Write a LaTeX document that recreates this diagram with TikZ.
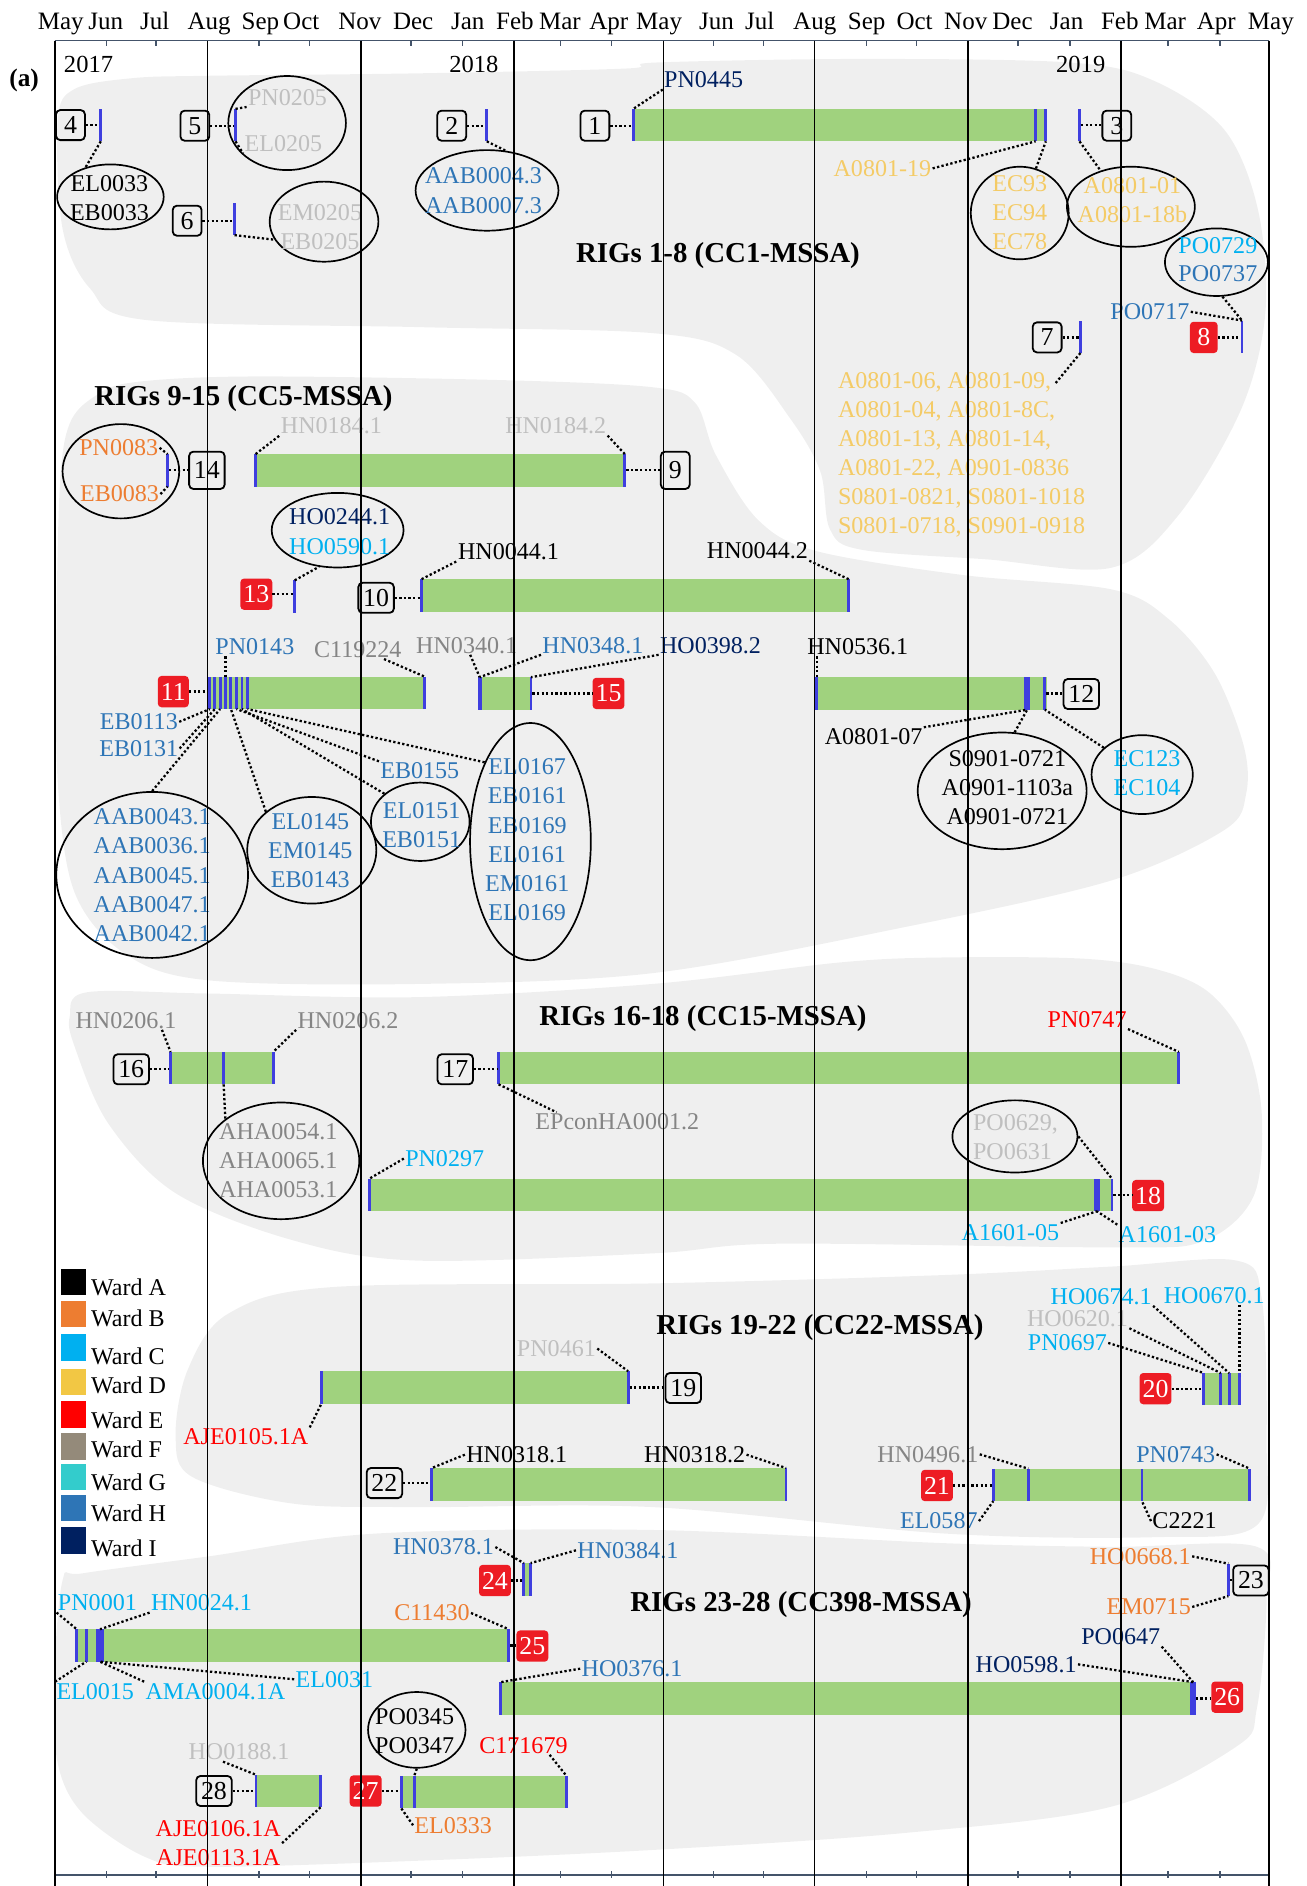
\documentclass[tikz,border=0pt]{standalone}
\usepackage{fontspec}
\setmainfont{Liberation Serif}
\usepackage{tikz}
\usetikzlibrary{shapes.geometric}

\definecolor{wardA}{HTML}{000000}
\definecolor{wardB}{HTML}{ED7D31}
\definecolor{wardC}{HTML}{00B0F0}
\definecolor{wardD}{HTML}{F2C744}
\definecolor{wardDtext}{HTML}{F4CB66}
\definecolor{wardE}{HTML}{FF0000}
\definecolor{wardF}{HTML}{948A7A}
\definecolor{wardG}{HTML}{33CCCC}
\definecolor{wardH}{HTML}{2E75B6}
\definecolor{wardI}{HTML}{002060}
\definecolor{greyL}{HTML}{BFBFBF}
\definecolor{greyM}{HTML}{858585}
\definecolor{barfill}{HTML}{A0D27E}
\definecolor{mkblue}{HTML}{3F3FDF}
\definecolor{blobfill}{HTML}{EFEFEF}
\definecolor{axisline}{HTML}{44546A}
\definecolor{boxred}{HTML}{ED1C24}

\tikzset{
	every node/.style={font=\fontsize{20}{24.2}\selectfont, inner sep=1pt, align=center},
	wA/.style={text=wardA}, wB/.style={text=wardB}, wC/.style={text=wardC},
	wD/.style={text=wardDtext}, wE/.style={text=wardE}, wH/.style={text=wardH},
	wI/.style={text=wardI}, gL/.style={text=greyL}, gM/.style={text=greyM},
	numbox/.style={draw, rounded corners=3.5pt, line width=1.5pt, minimum width=24pt, minimum height=25pt, inner xsep=4pt, inner ysep=2pt, font=\fontsize{21.5}{24}\selectfont},
	redbox/.style={fill=boxred, text=white, rounded corners=3pt, minimum width=23pt, minimum height=26pt, inner xsep=2.5pt, inner ysep=2pt, font=\fontsize{21.5}{24}\selectfont},
	grp/.style={ellipse, draw, line width=1.4pt, inner sep=0pt},
	lnk/.style={line width=1.9pt, dash pattern=on 1.9pt off 1.9pt},
	blk/.style={fill=mkblue, minimum width=2.4pt, minimum height=27pt, inner sep=0pt, outer sep=0pt},
	bar/.style={fill=barfill},
	blob/.style={fill=blobfill},
	rigs/.style={font=\bfseries\fontsize{24}{28}\selectfont},
	mon/.style={font=\fontsize{20.8}{24}\selectfont, text height=14pt, text depth=4pt},
	yr/.style={font=\fontsize{20.4}{24}\selectfont},
	vline/.style={line width=1.5pt},
	axln/.style={draw=axisline, line width=1.2pt}
}

\begin{document}
\begin{tikzpicture}[x=1pt,y=-1pt]
	\useasboundingbox (0,0) rectangle (1086,1568);

	\fill[blob] plot[smooth cycle, tension=0.55] coordinates {(48,100) (62,74) (110,65) (173,63) (346,61) (520,57) (545,52) (716,49) (890,52) (959,67) (1018,108) (1046,175) (1052,260) (1032,340) (980,428) (924,472) (820,465) (716,457) (690,440) (682,392) (657,348) (612,295) (543,277) (350,272) (121,266) (75,240) (52,190)};
	\fill[blob] plot[smooth cycle, tension=0.55] coordinates {(50,400) (58,352) (78,330) (110,318) (208,313) (416,316) (543,322) (578,335) (595,378) (630,432) (678,458) (800,478) (924,490) (972,515) (1010,560) (1034,620) (1036,660) (1018,690) (924,732) (751,771) (543,809) (350,818) (173,815) (104,793) (62,742) (48,650) (47,520)};
	\fill[blob] plot[smooth cycle, tension=0.55] coordinates {(58,845) (72,825) (173,826) (347,829) (543,818) (700,800) (786,796) (900,797) (962,806) (1005,825) (1035,865) (1049,926) (1042,995) (1000,1032) (924,1037) (647,1034) (543,1042) (346,1048) (243,1031) (146,992) (90,934) (62,870)};
	\fill[blob] plot[smooth cycle, tension=0.55] coordinates {(156,1139) (190,1092) (277,1070) (543,1067) (786,1060) (924,1053) (1028,1048) (1049,1080) (1053,1195) (1045,1268) (959,1278) (786,1275) (543,1253) (346,1253) (243,1250) (160,1228) (146,1195)};
	\fill[blob] plot[smooth cycle, tension=0.55] coordinates {(52,1314) (69,1308) (173,1294) (312,1275) (543,1272) (786,1283) (924,1286) (1045,1286) (1053,1330) (1045,1420) (1028,1452) (924,1502) (751,1524) (543,1538) (347,1547) (173,1552) (121,1544) (69,1508) (48,1466) (45,1397)};

	\foreach \xa/\xb/\yc in {526.5/870.4/104, 212.5/519.5/391, 350.5/705.9/495, 173.2/353/576, 397.7/441.5/576.5, 679/870.4/576.5, 141.8/227.3/888, 414.5/980/888, 307/924.5/993.5, 267.2/522.2/1153.5, 1000.8/1031.6/1155, 359/653.5/1234, 825.8/1040/1234.5, 435.5/441.2/1313, 63.8/423/1368, 416.2/993.4/1412, 333.7/471/1490, 212.8/266.5/1489}
		\fill[bar] (\xa,{\yc-13.5}) rectangle (\xb,{\yc+13.5});

	\foreach \n/\x/\y/\w in {k4/83.8/104/2.4, k5/195.8/104/2.4, k6/195/182/2.4, k2/404.7/104/2.4, k1a/526.5/104/2.4, k1b/861/104/2.4, k1c/869.5/104/2.4, k3/897.5/104/2.4, k7/898.2/280/2.4, k8/1032.6/280/2.4, k14/139.3/391/2.4, k9a/212.5/391/2.4, k9b/519.5/391/2.4, k13/245/496/2.4, k10a/350.5/495/2.4, k10b/705.5/495/2.4, k11a/174.4/576/2.4, k11b/178.6/576/2.4, k11c/183/576/2.4, k11d/187.4/576/2.4, k11e/192/576/2.4, k11f/196.6/576/2.4, k11g/201.2/576/2.4, k11h/205.8/576/2.4, k11z/353/576/2.4, k15a/398.8/576.5/3.5, k15b/441.5/576.5/2.4, k12a/679/576.5/2.4, k12b/854/576.5/5, k12c/868.7/576.5/2.4, k16a/141.8/888/2.4, k16b/185.9/888/2.4, k16c/227.3/888/2.4, k17a/414.5/888/2.4, k17b/980/888/2.4, k18a/307/993.5/2.4, k18b/912/993.5/5, k18c/924.5/993.5/2.4, k19a/267.2/1153.5/2.4, k19b/522.2/1153.5/2.4, k20a/1000.8/1155/2.4, k20b/1014.9/1155/2.4, k20c/1021.9/1155/2.4, k20d/1030.5/1155/2.4, k22a/359/1234/2.4, k22b/653.5/1234/2.4, k21a/825.8/1234.5/2.4, k21b/854.9/1234.5/2.4, k21c/949.4/1234.5/2.4, k21d/1039/1234.5/2.4, k24a/435.5/1313/2.4, k24b/441.2/1313/2.4, k23/1021.2/1313.5/2.4, k25a/63.8/1368/2.4, k25b/71.7/1368/2.4, k25c/83.2/1368/6.5, k25z/423/1368/2.4, k26a/416.2/1412/2.4, k26b/992/1412/4.5, k27a/333.7/1490/2.4, k27b/344.4/1490/2.4, k27c/471/1490/2.4, k28a/212.8/1489/2.4, k28b/266.5/1489/2.4}
		\node[blk, minimum width=\w] (\n) at (\x,\y) {};

	\node[numbox] (b4) at (58.6,104) {4};
	\path[lnk,draw] (b4.east) -- (b4.east -| k4.west);
	\node[grp, minimum width=88.6, minimum height=54] (e4) at (91.8,163.7) {};
	\node[wA] (t4) at (91,164.4) {EL0033\\EB0033};
	\path[lnk,draw] (k4.south) -- (e4.130);

	\node[numbox] (b5) at (162,104.5) {5};
	\path[lnk,draw] (b5.east) -- (b5.east -| k5.west);
	\node[grp, minimum width=97.8, minimum height=78.2] (e5) at (238.7,102.3) {};
	\node[gL] (t5a) at (239,81) {PN0205};
	\node[gL] (t5b) at (235.6,119.7) {EL0205};
	\path[lnk,draw] (k5.north) -- (t5a.south west);
	\path[lnk,draw] (k5.south) -- (t5b.south west);

	\node[numbox] (b6) at (155.6,183.5) {6};
	\path[lnk,draw] (b6.east) -- (b6.east -| k6.west);
	\node[grp, minimum width=90.4, minimum height=66.6] (e6) at (269.4,184.3) {};
	\node[gL] (t6) at (266,188.9) {EM0205\\EB0205};
	\path[lnk,draw] (k6.south) -- (e6.200);

	\node[numbox] (b2) at (375.6,104.5) {2};
	\path[lnk,draw] (b2.east) -- (b2.east -| k2.west);
	\node[grp, minimum width=118.8, minimum height=67] (e2) at (404.9,158.3) {};
	\node[wH] (t2) at (402,158.5) {AAB0004.3\\AAB0007.3};
	\path[lnk,draw] (k2.south) -- (e2.65);

	\node[numbox] (b1) at (494.6,104.5) {1};
	\path[lnk,draw] (b1.east) -- (b1.east -| k1a.west);
	\node[wI] (t1a) at (585,66.5) {PN0445};
	\path[lnk,draw] (t1a.south west) -- (k1a.north);
	\node[wD] (t1b) at (733.6,140) {A0801-19};
	\path[lnk,draw] (t1b.east) -- (k1b.south);
	\node[grp, minimum width=81.4, minimum height=77] (e1) at (847.8,177.1) {};
	\node[wD] (t1c) at (847.9,176.7) {EC93\\EC94\\EC78};
	\path[lnk,draw] (e1.70) -- (k1c.south);

	\node[numbox] (b3) at (928.5,104.5) {3};
	\path[lnk,draw] (k3.east) -- (k3.east -| b3.west);
	\node[grp, minimum width=106.4, minimum height=66.6] (e3) at (940.2,171.9) {};
	\node[wD] (t3) at (941.5,166.7) {A0801-01\\A0801-18b};
	\path[lnk,draw] (k3.south) -- (e3.130);

	\node[grp, minimum width=85.6, minimum height=56.2] (e8) at (1011.3,218) {};
	\node[wC] (t8a) at (1012.5,204.6) {PO0729};
	\node[wH] (t8b) at (1012.5,227.3) {PO0737};
	\node[wH] (t8c) at (956,259.2) {PO0717};
	\node[redbox] (r8) at (1000.8,280.5) {8};
	\path[lnk,draw] (e8.-80) -- (k8.north);
	\path[lnk,draw] (t8c.east) -- (k8.north);
	\path[lnk,draw] (r8.east) -- (r8.east -| k8.west);

	\node[numbox] (b7) at (870.6,280.5) {7};
	\path[lnk,draw] (b7.east) -- (b7.east -| k7.west);
	\node[wD, align=left, anchor=west] (t7) at (695.5,378) {A0801-06, A0801-09,\\A0801-04, A0801-8C,\\A0801-13, A0801-14,\\A0801-22, A0901-0836\\S0801-0821, S0801-1018\\S0801-0718, S0901-0918};
	\coordinate (c7) at (877.4,318.8);
	\path[lnk,draw] (k7.south) -- (c7);

	\node[rigs] (ttl1) at (596.9,212.5) {RIGs 1-8 (CC1-MSSA)};

	\node[rigs] (ttl2) at (202.4,331.7) {RIGs 9-15 (CC5-MSSA)};
	\node[grp, minimum width=97, minimum height=78.4] (e14) at (100.5,391.8) {};
	\node[wB] (t14a) at (98.7,372.3) {PN0083};
	\node[wB] (t14b) at (99.4,410.8) {EB0083};
	\path[lnk,draw] (t14a.east) -- (k14.north);
	\path[lnk,draw] (t14b.east) -- (k14.south);
	\node[numbox, minimum height=31] (b14) at (172,391) {14};
	\path[lnk,draw] (k14.east) -- (k14.east -| b14.west);
	\node[gL] (t9a) at (275.5,354.2) {HN0184.1};
	\path[lnk,draw] (k9a.north) -- (t9a.south west);
	\node[gL] (t9b) at (462,354.2) {HN0184.2};
	\path[lnk,draw] (t9b.south east) -- (k9b.north);
	\node[numbox, minimum height=31] (b9) at (561.4,391) {9};
	\path[lnk,draw] (k9b.east) -- (k9b.east -| b9.west);

	\node[grp, minimum width=109.6, minimum height=62] (e13) at (280.7,440.8) {};
	\node[wI] (t13a) at (282.4,429.6) {HO0244.1};
	\node[wC] (t13b) at (282.4,454.6) {HO0590.1};
	\path[lnk,draw] (k13.north) -- (e13.243);
	\node[redbox] (r13) at (213.1,494) {13};
	\path[lnk,draw] (r13.east) -- (r13.east -| k13.west);
	\node[numbox] (b10) at (312.7,497) {10};
	\path[lnk,draw] (b10.east) -- (b10.east -| k10a.west);
	\node[wA] (t10a) at (422.8,458.7) {HN0044.1};
	\path[lnk,draw] (k10a.north) -- (t10a.south west);
	\node[wA] (t10b) at (629.7,458.2) {HN0044.2};
	\path[lnk,draw] (t10b.south east) -- (k10b.north);

	\node[redbox] (r11) at (144.1,575) {11};
	\path[lnk,draw] (r11.east) -- (r11.east -| k11a.west);
	\node[wH] (t11a) at (211.9,537.8) {PN0143};
	\path[lnk,draw] (k11d.north |- t11a.south) -- (k11d.north);
	\node[gM] (t11b) at (297.5,540) {C119224};
	\path[lnk,draw] (t11b.-20) -- (k11z.north);
	\node[wH] (t11c) at (115.4,600.1) {EB0113};
	\path[lnk,draw] (t11c.east) -- (k11a.south);
	\node[wH] (t11d) at (115.4,622.3) {EB0131};
	\path[lnk,draw] (t11d.east) -- (k11b.south);
	\node[grp, minimum width=159.4, minimum height=138] (e11a) at (126.5,727.4) {};
	\node[wH] (t11e) at (126.5,727.6) {AAB0043.1\\AAB0036.1\\AAB0045.1\\AAB0047.1\\AAB0042.1};
	\path[lnk,draw] (e11a.north) -- (k11c.south);
	\node[grp, minimum width=107.4, minimum height=88.6] (e11b) at (259.2,706.9) {};
	\node[wH] (t11f) at (258,707) {EL0145\\EM0145\\EB0143};
	\path[lnk,draw] (e11b.140) -- (k11e.south);
	\node[wH] (t11g) at (349,640.9) {EB0155};
	\path[lnk,draw] (t11g.north west) -- (k11f.south);
	\node[grp, minimum width=82, minimum height=65.2] (e11c) at (349.4,683.2) {};
	\node[wH] (t11h) at (350.6,685.8) {EL0151\\EB0151};
	\path[lnk,draw] (e11c.142) -- (k11g.south);
	\node[grp, minimum width=100.4, minimum height=197.2] (e11d) at (441,699.7) {};
	\node[wH] (t11i) at (438.3,698.1) {EL0167\\EB0161\\EB0169\\EL0161\\EM0161\\EL0169};
	\path[lnk,draw] (e11d.120) -- (k11h.south);

	\node[gM] (t15a) at (388,536.4) {HN0340.1};
	\path[lnk,draw] (t15a.-70) -- (k15a.north);
	\node[wH] (t15b) at (492.9,536.4) {HN0348.1};
	\path[lnk,draw] (t15b.south west) -- (k15a.north);
	\node[wI] (t15c) at (590.7,536.4) {HO0398.2};
	\path[lnk,draw] (t15c.south west) -- (k15b.north);
	\node[redbox] (r15) at (505.9,576.5) {15};
	\path[lnk,draw] (k15b.east) -- (k15b.east -| r15.west);

	\node[wA] (t12a) at (713.1,537.8) {HN0536.1};
	\path[lnk,draw] (k12a.north |- t12a.south) -- (k12a.north);
	\node[numbox] (b12) at (899,577) {12};
	\path[lnk,draw] (k12c.east) -- (k12c.east -| b12.west);
	\node[wA] (t12b) at (726.3,612.6) {A0801-07};
	\path[lnk,draw] (t12b.north east) -- (k12b.south);
	\node[grp, minimum width=140.4, minimum height=97] (e12a) at (833.2,657.5) {};
	\node[wA] (t12c) at (837.5,654.9) {S0901-0721\\A0901-1103a\\A0901-0721};
	\path[lnk,draw] (e12a.78) -- (k12b.south);
	\node[grp, minimum width=84.2, minimum height=65.6] (e12b) at (949.6,644) {};
	\node[wC] (t12d) at (953.6,642.8) {EC123\\EC104};
	\path[lnk,draw] (e12b.145) -- (k12c.south);

	\node[rigs] (ttl3) at (584.4,847.2) {RIGs 16-18 (CC15-MSSA)};
	\node[gM] (t16a) at (104.8,848.2) {HN0206.1};
	\path[lnk,draw] (t16a.-15) -- (k16a.north);
	\node[gM] (t16b) at (289.3,848.2) {HN0206.2};
	\path[lnk,draw] (t16b.south west) -- (k16c.north);
	\node[numbox] (b16) at (109.1,889) {16};
	\path[lnk,draw] (b16.east) -- (b16.east -| k16a.west);
	\node[grp, minimum width=130, minimum height=97] (e16) at (233.7,965.1) {};
	\node[gM] (t16c) at (231.4,965) {AHA0054.1\\AHA0065.1\\AHA0053.1};
	\path[lnk,draw] (k16b.south) -- (e16.143);

	\node[numbox] (b17) at (378.5,889) {17};
	\path[lnk,draw] (b17.east) -- (b17.east -| k17a.west);
	\node[gM] (t17a) at (513.2,932.7) {EPconHA0001.2};
	\path[lnk,draw] (k17a.south) -- (t17a.171);
	\node[wE] (t17b) at (903.8,847.6) {PN0747};
	\path[lnk,draw] (t17b.south east) -- (k17b.north);

	\node[wC] (t18a) at (369.7,963.2) {PN0297};
	\path[lnk,draw] (t18a.west) -- (k18a.north);
	\node[redbox] (r18) at (954.5,994) {18};
	\path[lnk,draw] (k18c.east) -- (k18c.east -| r18.west);
	\node[grp, minimum width=104, minimum height=60] (e18) at (843.8,944.8) {};
	\node[gL, align=left] (t18b) at (844.3,945.5) {PO0629,\\PO0631};
	\path[lnk,draw] (e18.east) -- (k18c.north);
	\node[wC] (t18c) at (840.1,1024.7) {A1601-05};
	\path[lnk,draw] (t18c.north east) -- (k18b.south);
	\node[wC] (t18d) at (970.6,1026.1) {A1601-03};
	\path[lnk,draw] (t18d.north west) -- (k18b.south);

	\foreach \c/\t/\ys/\yt in {wardA/A/1066/1069.9, wardB/B/1092.5/1096.3, wardC/C/1120.4/1127.6, wardD/D/1149/1151.7, wardE/E/1175.9/1180.8, wardF/F/1202.5/1205.2, wardG/G/1228/1232.1, wardH/H/1253.5/1258.5, wardI/I/1280.6/1287.5} {
		\fill[\c] (50.9,{\ys-11}) rectangle (71.7,{\ys+11});
		\node[anchor=west] (lg\t) at (74.5,\yt) {Ward \t};
	}

	\node[rigs] (ttl4) at (681.6,1103.6) {RIGs 19-22 (CC22-MSSA)};
	\node[gL] (t19a) at (462.6,1121.2) {PN0461};
	\path[lnk,draw] (t19a.east) -- (k19b.north);
	\node[numbox] (b19) at (568.1,1154) {19};
	\path[lnk,draw] (k19b.east) -- (k19b.east -| b19.west);
	\node[wE] (t19b) at (204.4,1194.7) {AJE0105.1A};
	\path[lnk,draw] (t19b.north east) -- (k19a.south);
	\node[numbox] (b22) at (319.6,1233) {22};
	\path[lnk,draw] (b22.east) -- (b22.east -| k22a.west);
	\node[wA] (t22a) at (429.6,1209.4) {HN0318.1};
	\path[lnk,draw] (t22a.west) -- (k22a.north);
	\node[wA] (t22b) at (577.5,1209.4) {HN0318.2};
	\path[lnk,draw] (t22b.east) -- (k22b.north);

	\node[redbox] (r20) at (960.7,1154.5) {20};
	\path[lnk,draw] (r20.east) -- (r20.east -| k20a.west);
	\node[wC] (t20a) at (915.5,1077.7) {HO0674.1};
	\path[lnk,draw] (t20a.south east) -- (k20c.north);
	\node[wC] (t20b) at (1009.5,1076.9) {HO0670.1};
	\path[lnk,draw] (k20d.north |- t20b.south) -- (k20d.north);
	\node[gL] (t20c) at (895.8,1096.3) {HO0620.1};
	\path[lnk,draw] (t20c.south east) -- (k20b.north);
	\node[wC] (t20d) at (887.4,1116.5) {PN0697};
	\path[lnk,draw] (t20d.east) -- (k20a.north);

	\node[redbox] (r21) at (779,1235) {21};
	\path[lnk,draw] (r21.east) -- (r21.east -| k21a.west);
	\node[gM] (t21a) at (771.4,1209.1) {HN0496.1};
	\path[lnk,draw] (t21a.east) -- (k21b.north);
	\node[wH] (t21b) at (977.5,1209.1) {PN0743};
	\path[lnk,draw] (t21b.east) -- (k21d.north);
	\node[wH] (t21c) at (780.5,1264.6) {EL0587};
	\path[lnk,draw] (t21c.east) -- (k21a.south);
	\node[wA] (t21d) at (984.8,1264.6) {C2221};
	\path[lnk,draw] (t21d.west) -- (k21c.south);

	\node[rigs] (ttl5) at (666,1333.6) {RIGs 23-28 (CC398-MSSA)};
	\node[wB] (t23a) at (948,1293.9) {HO0668.1};
	\path[lnk,draw] (t23a.east) -- (k23.north);
	\node[numbox] (b23) at (1040,1314) {23};
	\path[lnk,draw] (k23.east) -- (k23.east -| b23.west);
	\node[wB] (t23b) at (955,1336) {EM0715};
	\path[lnk,draw] (t23b.east) -- (k23.south);
	\node[wH] (t24a) at (368.7,1286.2) {HN0378.1};
	\path[lnk,draw] (t24a.east) -- (k24a.north);
	\node[wH] (t24b) at (522,1288.9) {HN0384.1};
	\path[lnk,draw] (t24b.west) -- (k24b.north);
	\node[redbox] (r24) at (411.5,1314) {24};
	\path[lnk,draw] (r24.east) -- (r24.east -| k24a.west);

	\node[wC] (t25a) at (81,1332.7) {PN0001};
	\path[lnk,draw] (t25a.south west) -- (k25a.north);
	\node[wC] (t25b) at (167.5,1332.7) {HN0024.1};
	\path[lnk,draw] (t25b.south west) -- (k25c.north);
	\node[wB] (t25c) at (359.1,1341) {C11430};
	\path[lnk,draw] (t25c.east) -- (k25z.north);
	\node[redbox] (r25) at (442.6,1368.5) {25};
	\path[lnk,draw] (k25z.east) -- (k25z.east -| r25.west);
	\node[wC] (t25d) at (79.2,1406.1) {EL0015};
	\path[lnk,draw] (t25d.north west) -- (k25b.south);
	\node[wC] (t25e) at (179.1,1406.1) {AMA0004.1A};
	\path[lnk,draw] (t25e.north west) -- (k25c.south);
	\node[wC] (t25f) at (278,1396.1) {EL0031};
	\path[lnk,draw] (t25f.west) -- (k25c.south);

	\node[wH] (t26a) at (525.5,1387.3) {HO0376.1};
	\path[lnk,draw] (t26a.west) -- (k26a.north);
	\node[redbox] (r26) at (1020.3,1411) {26};
	\path[lnk,draw] (k26b.east) -- (k26b.east -| r26.west);
	\node[wI] (t26b) at (853.1,1383.7) {HO0598.1};
	\path[lnk,draw] (t26b.east) -- (k26b.north);
	\node[wI] (t26c) at (931.8,1361) {PO0647};
	\path[lnk,draw] (t26c.south east) -- (k26b.north);

	\node[grp, minimum width=81, minimum height=63] (e27) at (346.5,1438.2) {};
	\node[wA] (t27c) at (344.7,1439.2) {PO0345\\PO0347};
	\path[lnk,draw] (e27.south) -- (k27b.north);
	\node[redbox] (r27) at (304,1489) {27};
	\path[lnk,draw] (r27.east) -- (r27.east -| k27a.west);
	\node[wE] (t27a) at (435.2,1451) {C171679};
	\path[lnk,draw] (t27a.-20) -- (k27c.north);
	\node[wB] (t27b) at (376.8,1517.5) {EL0333};
	\path[lnk,draw] (k27a.south) -- (t27b.west);

	\node[gL] (t28a) at (198.7,1456.6) {HO0188.1};
	\path[lnk,draw] (t28a.-149) -- (k28a.north);
	\node[numbox] (b28) at (177.9,1489) {28};
	\path[lnk,draw] (b28.east) -- (b28.east -| k28a.west);
	\node[wE] (t28b) at (181.4,1532.35) {AJE0106.1A\\AJE0113.1A};
	\path[lnk,draw] (t28b.east) -- (k28b.south);

	\path[axln] (45.4,33.8) -- (1055,33.8);
	\path[axln] (45.4,1558.8) -- (1055,1558.8);
	\foreach \x in {45.4,88.4,129.6,172.5,215.5,257.1,300,341.6,384.6,427.2,466,508.6,551.6,593.2,634.8,677.1,720.4,761.9,804.6,846.5,889.5,931.7,971.2,1014.2,1055} {
		\path[axln] (\x,33.8) -- (\x,38.5);
		\path[axln] (\x,1555.8) -- (\x,1561.5);
	}
	\foreach \x in {45.4,172.5,300,427.2,551.6,677.1,804.6,931.7,1055}
		\draw[vline] (\x,33.8) -- (\x,1568);

	\foreach \m/\x [count=\i] in {May/50.5, Jun/88, Jul/128.7, Aug/173.9, Sep/216.5, Oct/250.5, Nov/299.2, Dec/343.5, Jan/388.9, Feb/428.1, Mar/465.5, Apr/506.2, May/548, Jun/595.7, Jul/631.7, Aug/677.4, Sep/720.5, Oct/760.4, Nov/802.9, Dec/841.8, Jan/886.8, Feb/931, Mar/968.7, Apr/1011.2, May/1056.6}
		\node[mon] (mo\i) at (\x,19.4) {\m};

	\node[yr] (yr17) at (73.6,54) {2017};
	\node[yr] (yr18) at (394,54) {2018};
	\node[yr] (yr19) at (898.5,54) {2019};
	\node[font=\bfseries\fontsize{21}{24}\selectfont] (pa) at (20.1,66.5) {(a)};
\end{tikzpicture}
\end{document}
